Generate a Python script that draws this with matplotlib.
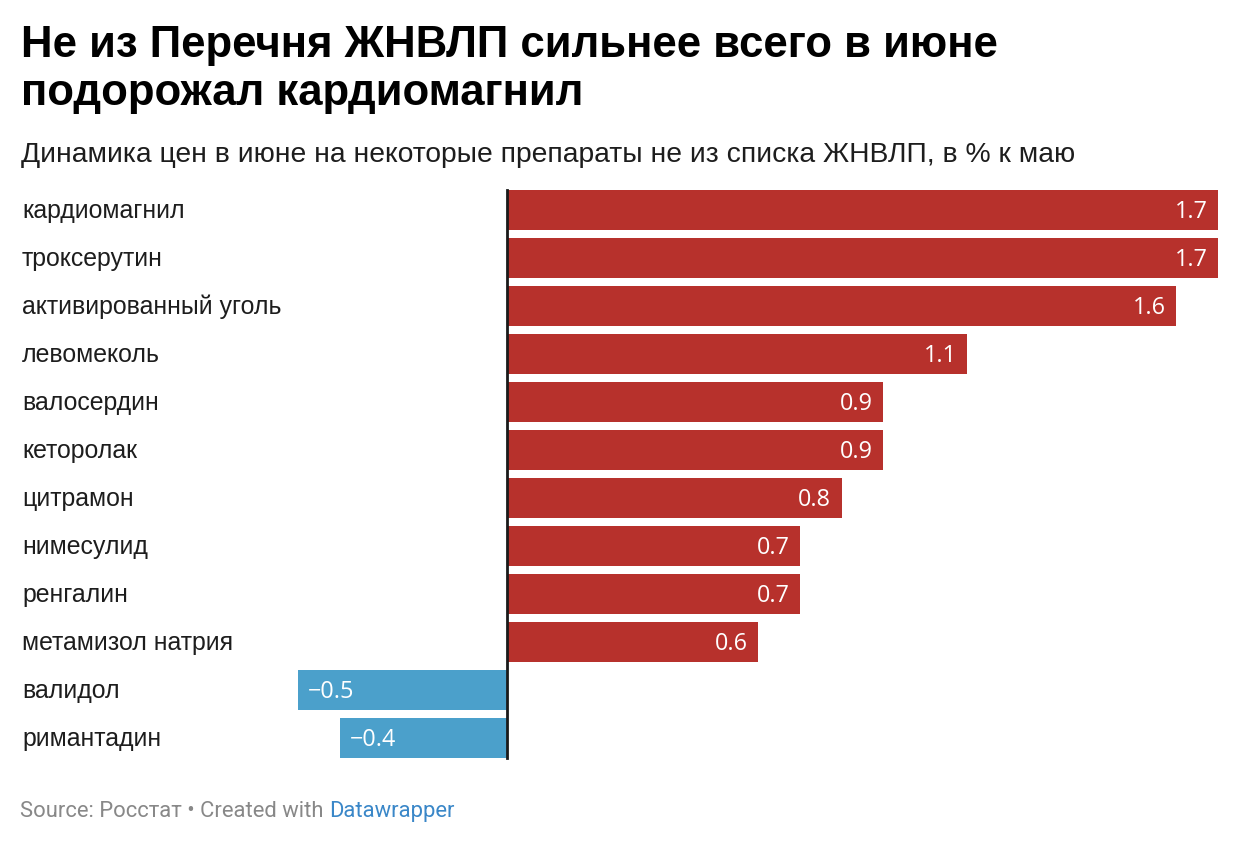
import matplotlib
matplotlib.use("Agg")
import matplotlib.pyplot as plt
import matplotlib.transforms as mtransforms

# Data: price change in June, % vs May
drugs = ["кардиомагнил", "троксерутин", "активированный уголь", "левомеколь",
         "валосердин", "кеторолак", "цитрамон", "нимесулид", "ренгалин",
         "метамизол натрия", "валидол", "римантадин"]
values = [1.7, 1.7, 1.6, 1.1, 0.9, 0.9, 0.8, 0.7, 0.7, 0.6, -0.5, -0.4]

RED = "#b7312c"
BLUE = "#4ba0cb"

W, H = 1238, 844
fig = plt.figure(figsize=(W / 100, H / 100), dpi=100)

# axes placed in pixel terms: zero line at x=507, 1.7 at x=1218
x_left_px, x_right_px = 290, 1218
y_top_px, y_bot_px = 186, 762
ax = fig.add_axes([x_left_px / W, 1 - y_bot_px / H,
                   (x_right_px - x_left_px) / W, (y_bot_px - y_top_px) / H])
scale = (1218 - 507) / 1.7
ax.set_xlim(-(507 - x_left_px) / scale, 1.7)
ax.set_ylim(len(drugs) - 0.5, -0.5)
ax.axis("off")

pos = list(range(len(drugs)))
colors = [RED if v > 0 else BLUE for v in values]
ax.barh(pos, values, height=0.83, color=colors, zorder=2)
ax.plot([0, 0], [-0.42, len(drugs) - 1 + 0.42], color="#1a1a1a", lw=2, zorder=3)

# value labels inside bars
for y, v in zip(pos, values):
    txt = f"{v:.1f}".replace("-", "\u2212")
    if v > 0:
        ax.annotate(txt, (v, y), xytext=(-7.5, -5.8), textcoords="offset points",
                    ha="right", va="baseline", color="white", fontsize=16.8,
                    family="Open Sans", zorder=4)
    else:
        ax.annotate(txt, (v, y), xytext=(7, -5.8), textcoords="offset points",
                    ha="left", va="baseline", color="white", fontsize=16.8,
                    family="Open Sans", zorder=4)

# category labels on the left
lab_tr = mtransforms.blended_transform_factory(fig.transFigure, ax.transData)
for y, name in zip(pos, drugs):
    ax.annotate(name, (22 / W, y), xycoords=lab_tr, xytext=(0, -5.5),
                textcoords="offset points", ha="left", va="baseline",
                fontsize=17.9, color="#1d1d1d", family="Liberation Sans")

# title, subtitle, footer
fig.text(21 / W, 1 - 57 / H, "Не из Перечня ЖНВЛП сильнее всего в июне",
         fontsize=31.5, fontweight="bold", family="Liberation Sans", color="black")
fig.text(21 / W, 1 - 105 / H, "подорожал кардиомагнил",
         fontsize=31.5, fontweight="bold", family="Liberation Sans", color="black")
fig.text(21 / W, 1 - 162 / H,
         "Динамика цен в июне на некоторые препараты не из списка ЖНВЛП, в % к маю",
         fontsize=20.3, family="Liberation Sans", color="#1d1d1d")

foot = fig.text(20 / W, 1 - 817 / H, "Source: Росстат • Created with ",
                fontsize=15.8, family="Roboto", color="#888888")
fig.canvas.draw()
bb = foot.get_window_extent()
fig.text(bb.x1 / W, 1 - 817 / H, "Datawrapper", fontsize=15.8, family="Roboto",
         color="#3a87c8")

fig.savefig("out.png", dpi=100, facecolor="white")
